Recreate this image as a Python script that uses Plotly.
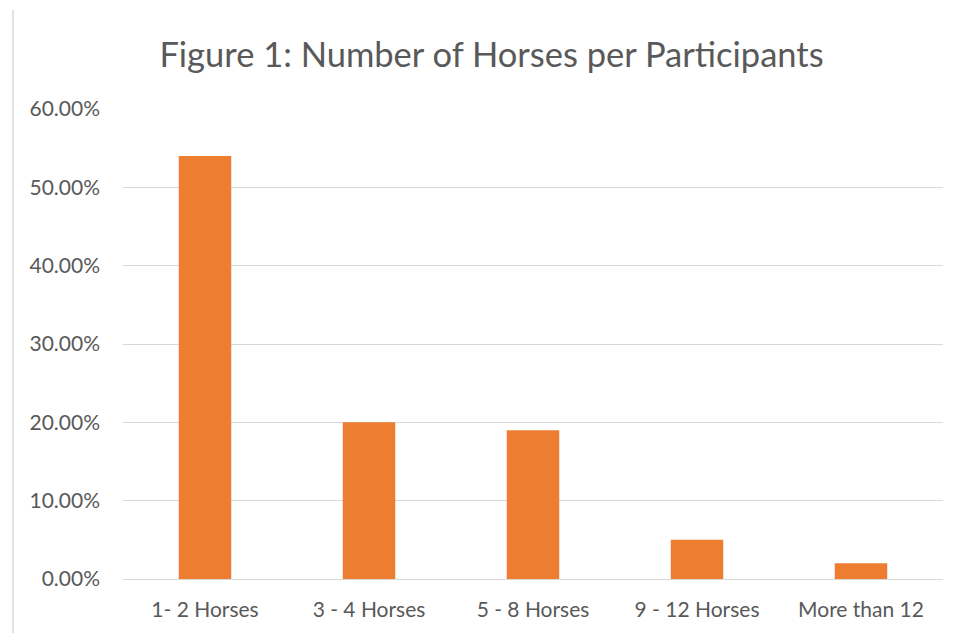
import plotly.graph_objects as go

categories = ["1- 2 Horses", "3 - 4 Horses", "5 - 8 Horses", "9 - 12 Horses", "More than 12"]
values = [0.54, 0.20, 0.19, 0.05, 0.02]
tick_vals = [0, 0.1, 0.2, 0.3, 0.4, 0.5, 0.6]
tick_text = ["0.00%", "10.00%", "20.00%", "30.00%", "40.00%", "50.00%", "60.00%"]

W, H = 956, 633
OFF = 8  # page body margin
L, T = 123 - OFF, 109 - OFF
pw, ph = 820, 470
R, B = W - L - pw, H - T - ph

fig = go.Figure(go.Bar(x=categories, y=values, marker=dict(color="#ED7D31", line=dict(width=0))))

fig.update_layout(
    width=W, height=H,
    margin=dict(l=L, r=R, t=T, b=B),
    paper_bgcolor="white", plot_bgcolor="white",
    font=dict(family="Lato", color="#595959", size=21),
    title=dict(text="Figure 1: Number of Horses per Participants",
               x=(491.5 - OFF) / W, xanchor="center",
               y=1 - (55 - OFF) / H, yanchor="middle", font=dict(size=34.5, color="#595959")),
    bargap=0.68,
    showlegend=False,
)
fig.update_yaxes(range=[0, 0.6], tickvals=tick_vals, ticktext=tick_text, showgrid=True,
                 gridcolor="#d9d9d9", gridwidth=1, zeroline=False, showline=False,
                 ticks="", ticklabelstandoff=22)
fig.update_xaxes(showline=True, linecolor="#d9d9d9", linewidth=1, ticks="", ticklabelstandoff=12)

xline = (13 - OFF - L) / pw
fig.add_shape(type="line", xref="paper", yref="paper",
              x0=xline, x1=xline, y0=(ph + T - (10 - OFF)) / ph, y1=-B / ph,
              line=dict(color="#d9d9d9", width=1.5))

fig.write_html("out.html")
